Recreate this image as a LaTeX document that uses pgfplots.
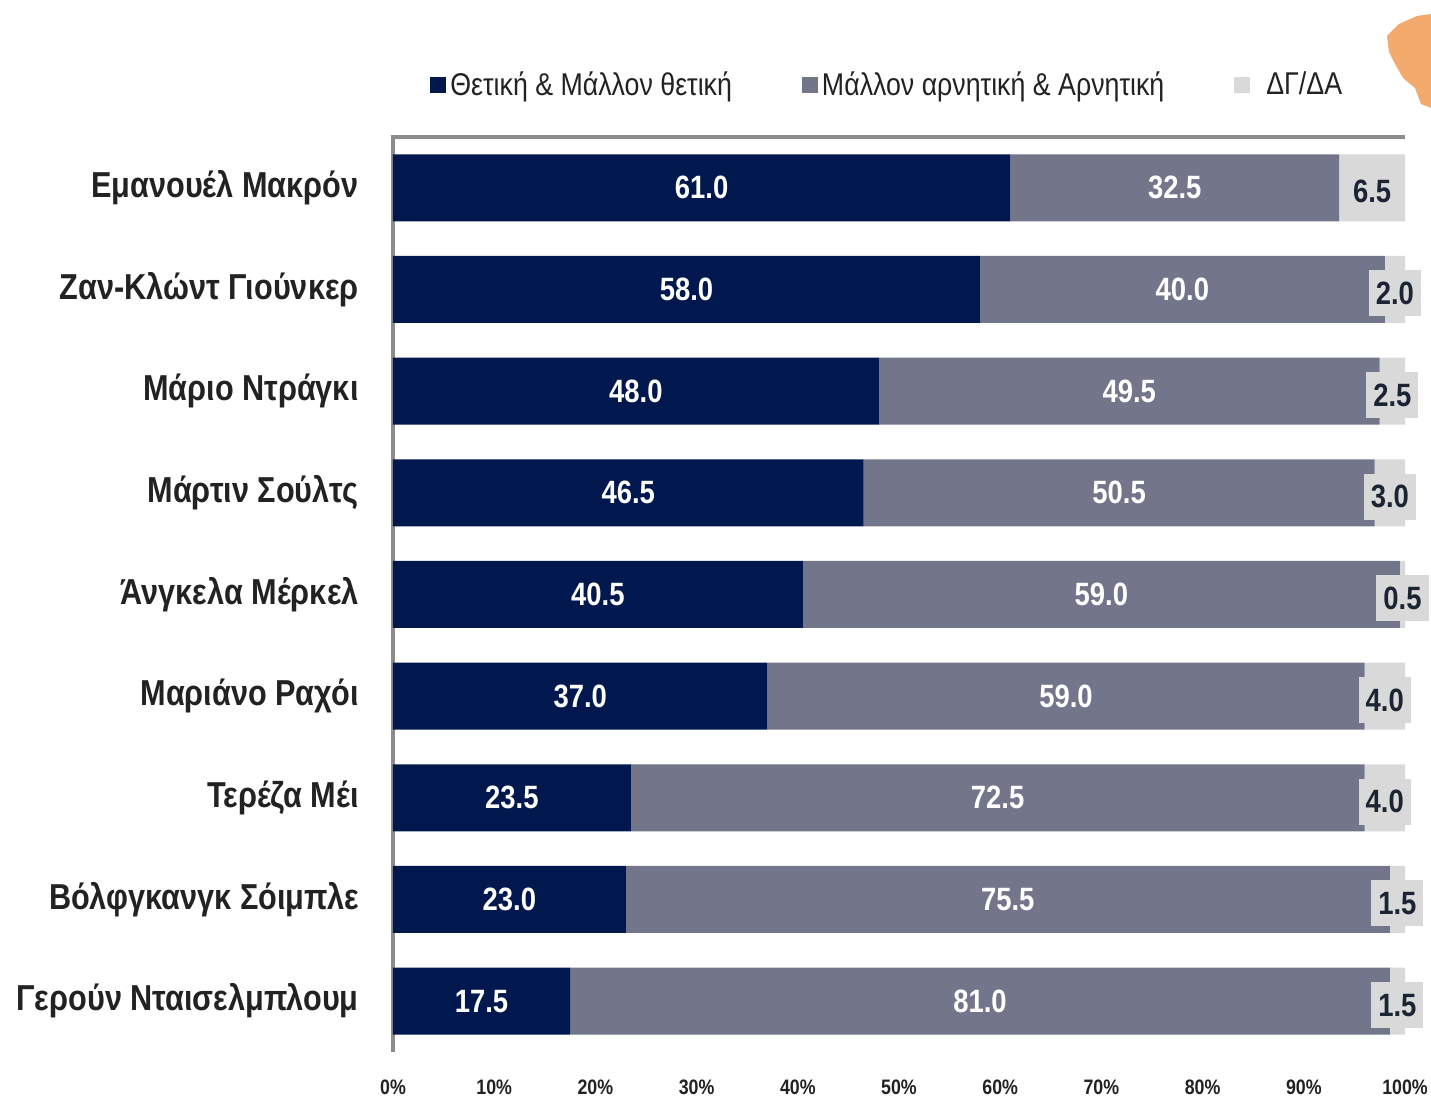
\documentclass[border=0pt]{standalone}
\usepackage{fontspec}
\setmainfont{Liberation Sans}[FakeStretch=0.85]
\usepackage{pgfplots}
\pgfplotsset{compat=1.18}
\definecolor{cnavy}{RGB}{0,24,77}
\definecolor{cgrey}{RGB}{115,117,138}
\definecolor{clight}{RGB}{217,217,217}
\definecolor{caxis}{RGB}{140,140,140}
\definecolor{ctext}{RGB}{34,34,34}
\definecolor{clab}{RGB}{28,36,52}
\definecolor{corange}{RGB}{240,140,60}
\begin{document}
\begin{tikzpicture}
\begin{axis}[
  at={(0,0)}, anchor=south west,
  scale only axis, width=506bp, height=457.5bp,
  xbar stacked, bar width=33.5bp,
  xmin=0, xmax=100, ymin=-0.5, ymax=8.5,
  enlargelimits=false, clip=false,
  axis line style={draw=none},
  tick style={draw=none},
  xtick={0,10,...,100},
  xticklabels={0\%,10\%,20\%,30\%,40\%,50\%,60\%,70\%,80\%,90\%,100\%},
  xticklabel style={anchor=center, yshift=-17.5bp, inner sep=0pt, text=ctext, font=\bfseries\fontsize{10.5}{12}\selectfont},
  ytick={0,...,8},
  yticklabels={Γερούν Νταισελμπλουμ, Βόλφγκανγκ Σόιμπλε, Τερέζα Μέι, Μαριάνο Ραχόι, Άνγκελα Μέρκελ, Μάρτιν Σούλτς, Μάριο Ντράγκι, Ζαν-Κλώντ Γιούνκερ, Εμανουέλ Μακρόν},
  yticklabel style={anchor=east, inner sep=0pt, xshift=-17bp, text=ctext, font=\bfseries\fontsize{18.1}{20}\selectfont},
  /pgf/number format/assume math mode=true,
  point meta=explicit,
  nodes near coords={\pgfmathprintnumber[fixed,fixed zerofill,precision=1]{\pgfplotspointmeta}},
  every node near coord/.append style={font=\bfseries\fontsize{16.2}{18}\selectfont, text=white},
  legend columns=3,
  legend style={at={(18.5bp,483.5bp)}, anchor=west, draw=none, fill=none,
    font=\fontsize{15.8}{17}\selectfont, text=ctext,
    /tikz/every even column/.append style={column sep=33bp},
    inner sep=0pt, cells={anchor=west}},
  legend image code/.code={\fill[#1] (0bp,-4bp) rectangle (8bp,4bp);},
]
\addplot[fill=cnavy, draw=none] coordinates {
 (17.5,0) [17.5] (23.0,1) [23.0] (23.5,2) [23.5] (37.0,3) [37.0] (40.5,4) [40.5]
 (46.5,5) [46.5] (48.0,6) [48.0] (58.0,7) [58.0] (61.0,8) [61.0]};
\addplot[fill=cgrey, draw=none] coordinates {
 (81.0,0) [81.0] (75.5,1) [75.5] (72.5,2) [72.5] (59.0,3) [59.0] (59.0,4) [59.0]
 (50.5,5) [50.5] (49.5,6) [49.5] (40.0,7) [40.0] (32.5,8) [32.5]};
\addplot[fill=clight, draw=none,
  every node near coord/.append style={text=clab, fill=clight, inner xsep=3.5bp, minimum height=23bp, yshift=-2bp}] coordinates {
 (1.5,0) [1.5] (1.5,1) [1.5] (4.0,2) [4.0] (4.0,3) [4.0] (0.5,4) [0.5]
 (3.0,5) [3.0] (2.5,6) [2.5] (2.0,7) [2.0] (6.5,8) [6.5]};
\legend{Θετική \& Μάλλον θετική, Μάλλον αρνητική \& Αρνητική, \hspace{6bp}ΔΓ/ΔΑ}
\draw[caxis, line width=2bp] (rel axis cs:0,0) -- (rel axis cs:0,1) -- (rel axis cs:1,1);
\end{axis}
\fill[corange, opacity=0.75] (497bp,508bp) -- (503bp,514bp) -- (512bp,518bp) -- (519bp,519bp) -- (519bp,472bp) -- (514bp,474bp) -- (511bp,482bp) -- (505bp,487bp) -- (501bp,494bp) -- (498bp,500bp) -- cycle;
\pgfresetboundingbox
\path[use as bounding box] (-196.5bp,-22bp) rectangle (519bp,526bp);
\end{tikzpicture}
\end{document}
